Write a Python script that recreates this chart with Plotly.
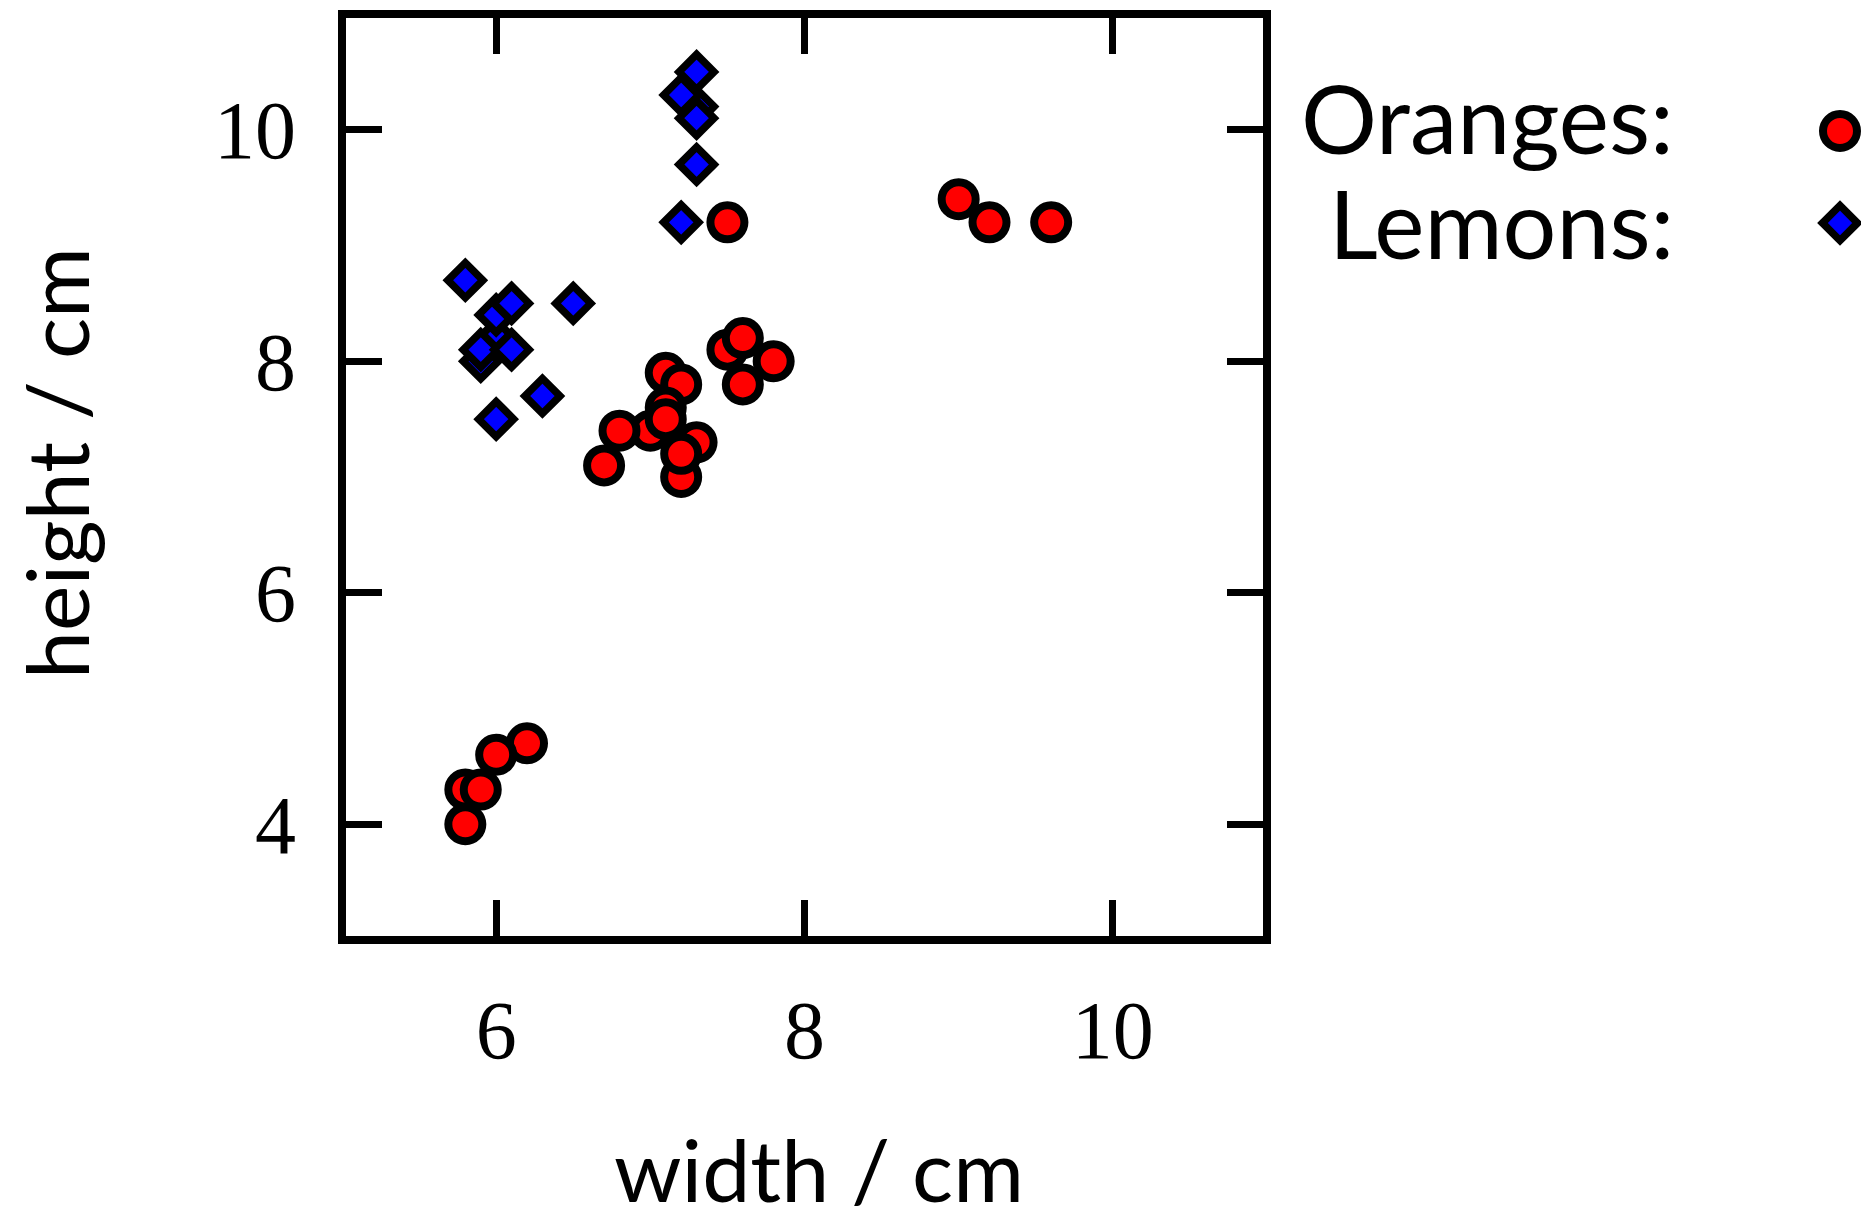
import plotly.graph_objects as go

# ---- data ----
orange_w = [7.5, 9.0, 9.2, 9.6, 7.8, 7.5, 7.6, 7.6, 7.1, 7.2, 7.0, 7.1, 7.1, 6.8, 6.7, 7.2, 7.3, 7.2,
            6.2, 6.0, 5.8, 5.9, 5.8]
orange_h = [9.2, 9.4, 9.2, 9.2, 8.0, 8.1, 8.2, 7.8, 7.9, 7.8, 7.4, 7.6, 7.5, 7.4, 7.1, 7.0, 7.3, 7.2,
            4.7, 4.6, 4.3, 4.3, 4.0]
lemon_w = [7.3, 7.2, 7.3, 7.3, 7.3, 7.2, 5.8, 6.0, 5.9, 5.9, 6.1, 6.0, 6.1, 6.5, 6.3, 6.0]
lemon_h = [10.2, 10.3, 10.5, 10.1, 9.7, 9.2, 8.7, 8.2, 8.0, 8.1, 8.1, 8.4, 8.5, 8.5, 7.7, 7.5]
x_ticks = [6, 8, 10]
y_ticks = [4, 6, 8, 10]
series_names = ["Oranges:", "Lemons:"]

W, H = 1861, 1226
L, R, T, B = 342, 1267, 14, 940   # plot area in pixels

SERIF = "Liberation Serif"
SANS = "Lato"

circ = dict(symbol="circle", size=34, color="#ff0000", line=dict(color="black", width=8))
diam = dict(symbol="diamond", size=27, color="#0000ff", line=dict(color="black", width=7.5))

fig = go.Figure()
fig.add_trace(go.Scatter(x=orange_w, y=orange_h, mode="markers", marker=circ, showlegend=False))
fig.add_trace(go.Scatter(x=lemon_w, y=lemon_h, mode="markers", marker=diam, showlegend=False))

# legend keys on a page-wide helper axis (pixel units)
leg_px_x = 1840
leg_px_y = [131, 223]
fig.add_trace(go.Scatter(x=[leg_px_x], y=[leg_px_y[0]], mode="markers", marker=circ,
                         xaxis="x2", yaxis="y2", showlegend=False, cliponaxis=False))
fig.add_trace(go.Scatter(x=[leg_px_x], y=[leg_px_y[1]], mode="markers", marker=diam,
                         xaxis="x2", yaxis="y2", showlegend=False, cliponaxis=False))

axis_common = dict(showline=False, mirror="ticks",
                   ticks="inside", ticklen=40, tickwidth=7, tickcolor="black",
                   showgrid=False, zeroline=False, automargin=False,
                   tickfont=dict(family=SERIF, size=82, color="black"))

fig.update_layout(
    width=W, height=H,
    margin=dict(l=0, r=0, t=0, b=0),
    paper_bgcolor="white", plot_bgcolor="rgba(0,0,0,0)",
    xaxis=dict(range=[5, 11], tickvals=x_ticks, domain=[L / W, R / W], anchor="y",
               ticklabelstandoff=35, **axis_common),
    yaxis=dict(range=[3, 11], tickvals=y_ticks, domain=[1 - B / H, 1 - T / H], anchor="x",
               ticklabelstandoff=45, **axis_common),
    xaxis2=dict(range=[0, W], domain=[0, 1], anchor="y2", visible=False),
    yaxis2=dict(range=[H, 0], domain=[0, 1], anchor="x2", visible=False),
    showlegend=False,
    shapes=[dict(type="rect", xref="x domain", yref="y domain", x0=0, x1=1, y0=0, y1=1,
                 line=dict(color="black", width=8), layer="above")],
)

leg_text_y = [117, 222]
ann = []
for name, py in zip(series_names, leg_text_y):
    ann.append(dict(text=name, x=1676 / W, y=1 - py / H, xref="paper", yref="paper",
                    xanchor="right", yanchor="middle", showarrow=False,
                    font=dict(family=SANS, size=95, color="black")))
ann.append(dict(text="width / cm", x=819 / W, y=1 - 1168 / H, xref="paper", yref="paper",
                xanchor="center", yanchor="middle", showarrow=False,
                font=dict(family=SANS, size=86, color="black")))
ann.append(dict(text="height / cm", x=56 / W, y=1 - 463 / H, xref="paper", yref="paper",
                xanchor="center", yanchor="middle", showarrow=False, textangle=-90,
                font=dict(family=SANS, size=86, color="black")))
fig.update_layout(annotations=ann)

fig.write_html("out.html")
